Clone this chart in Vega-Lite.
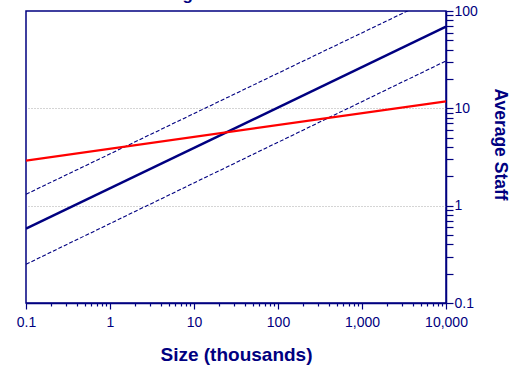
{
  "$schema": "https://vega.github.io/schema/vega-lite/v6.json",
  "width": 420,
  "height": 292,
  "autosize": {"type": "none"},
  "padding": {"left": 26, "top": 11, "right": 68, "bottom": 63},
  "title": {"text": "Average Staff vs. Size", "fontSize": 17, "font": "Liberation Sans", "fontWeight": "bold", "color": "#000080", "baseline": "alphabetic", "offset": 0, "dx": -12, "dy": 13},
  "config": {"view": {"stroke": "#000080", "strokeWidth": 1.5}, "font": "Liberation Sans"},
  "data": {"values": [
    {"series": "red", "size": 0.1, "staff": 2.9},
    {"series": "red", "size": 10000, "staff": 11.8},
    {"series": "fit", "size": 0.1, "staff": 0.58},
    {"series": "fit", "size": 10000, "staff": 69},
    {"series": "upper", "size": 0.1, "staff": 1.31},
    {"series": "upper", "size": 10000, "staff": 155},
    {"series": "lower", "size": 0.1, "staff": 0.25},
    {"series": "lower", "size": 10000, "staff": 30.7}
  ]},
  "encoding": {
    "x": {"field": "size", "type": "quantitative",
      "scale": {"type": "log", "domain": [0.1, 10000], "nice": false},
      "axis": {
        "values": [0.1,0.2,0.3,0.4,0.5,0.6,0.7,0.8,0.9,1,2,3,4,5,6,7,8,9,10,20,30,40,50,60,70,80,90,100,200,300,400,500,600,700,800,900,1000,2000,3000,4000,5000,6000,7000,8000,9000,10000],
        "labelExpr": "indexof([0.1,1,10,100,1000,10000], datum.value) >= 0 ? format(datum.value, ',') : ''",
        "labelOverlap": false, "labelBound": false, "labelFlush": false,
        "grid": false,
        "domainColor": "#000080", "domainWidth": 1.5,
        "tickColor": "#000080", "tickWidth": 1.2,
        "tickSize": {"condition": {"test": "indexof([0.1,1,10,100,1000,10000], datum.value) >= 0", "value": 6}, "value": 3},
        "labelColor": "#000080", "labelFontSize": 14, "labelFont": "Liberation Sans",
        "labelPadding": 6,
        "title": "Size (thousands)", "titleColor": "#000080", "titleFontSize": 19, "titleFont": "Liberation Sans", "titleFontWeight": "bold",
        "titleBaseline": "alphabetic", "titleY": 57
      }
    },
    "y": {"field": "staff", "type": "quantitative",
      "scale": {"type": "log", "domain": [0.1, 100], "nice": false},
      "axis": {
        "orient": "right",
        "values": [0.1,0.2,0.3,0.4,0.5,0.6,0.7,0.8,0.9,1,2,3,4,5,6,7,8,9,10,20,30,40,50,60,70,80,90,100],
        "labelExpr": "indexof([0.1,1,10,100], datum.value) >= 0 ? format(datum.value, ',') : ''",
        "labelOverlap": false, "labelBound": false, "labelFlush": false,
        "grid": true, "gridColor": "#aaaaaa", "gridDash": [1, 2], "gridWidth": 1,
        "gridOpacity": {"condition": {"test": "indexof([1,10], datum.value) >= 0", "value": 1}, "value": 0},
        "domainColor": "#000080", "domainWidth": 1.5,
        "tickColor": "#000080", "tickWidth": 1.2, "tickSize": 7,
        "labelColor": "#000080", "labelFontSize": 14, "labelFont": "Liberation Sans",
        "labelPadding": 1, "labelBaseline": "middle",
        "title": "Average Staff", "titleColor": "#000080", "titleFontSize": 17.5, "titleFont": "Liberation Sans", "titleFontWeight": "bold",
        "titleAngle": 90, "titleAlign": "center", "titleBaseline": "middle", "titleX": 53, "titleY": 133
      }
    }
  },
  "layer": [
    {"transform": [{"filter": "datum.series === 'upper'"}], "mark": {"type": "line", "color": "#000080", "strokeWidth": 1.1, "strokeDash": [4, 2], "clip": true}},
    {"transform": [{"filter": "datum.series === 'lower'"}], "mark": {"type": "line", "color": "#000080", "strokeWidth": 1.1, "strokeDash": [4, 2], "clip": true}},
    {"transform": [{"filter": "datum.series === 'fit'"}], "mark": {"type": "line", "color": "#000080", "strokeWidth": 2.5, "clip": true}},
    {"transform": [{"filter": "datum.series === 'red'"}], "mark": {"type": "line", "color": "#ff0000", "strokeWidth": 2.2, "clip": true}}
  ]
}
